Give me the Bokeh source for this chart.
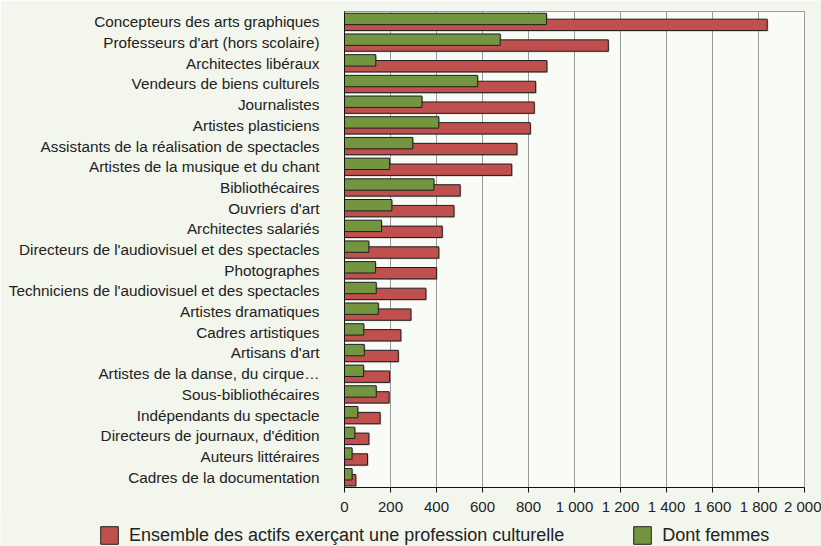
from bokeh.plotting import figure
from bokeh.layouts import column
from bokeh.models import (Range1d, FactorRange, FixedTicker, Legend, LegendItem,
                          ColumnDataSource)
from bokeh.transform import dodge
from bokeh.embed import file_html
from bokeh.resources import INLINE

categories = [
    "Concepteurs des arts graphiques",
    "Professeurs d'art (hors scolaire)",
    "Architectes libéraux",
    "Vendeurs de biens culturels",
    "Journalistes",
    "Artistes plasticiens",
    "Assistants de la réalisation de spectacles",
    "Artistes de la musique et du chant",
    "Bibliothécaires",
    "Ouvriers d'art",
    "Architectes salariés",
    "Directeurs de l'audiovisuel et des spectacles",
    "Photographes",
    "Techniciens de l'audiovisuel et des spectacles",
    "Artistes dramatiques",
    "Cadres artistiques",
    "Artisans d'art",
    "Artistes de la danse, du cirque…",
    "Sous-bibliothécaires",
    "Indépendants du spectacle",
    "Directeurs de journaux, d'édition",
    "Auteurs littéraires",
    "Cadres de la documentation",
]
ensemble = [1838, 1147, 880, 831, 825, 808, 750, 727, 503, 476, 425, 410,
            400, 354, 289, 245, 234, 196, 194, 155, 106, 100, 49]
femmes = [878, 677, 136, 579, 337, 410, 297, 196, 389, 206, 161, 106,
          135, 138, 147, 84, 86, 83, 138, 58, 45, 33, 33]
x_ticks = [0, 200, 400, 600, 800, 1000, 1200, 1400, 1600, 1800, 2000]
x_tick_labels = ["0", "200", "400", "600", "800", "1 000", "1 200", "1 400",
                 "1 600", "1 800", "2 000"]
legend_labels = ["Ensemble des actifs exerçant une profession culturelle",
                 "Dont femmes"]

RED = "#c0504d"
GREEN = "#73953f"
EDGE = "#1e1e1e"
FONT = "Liberation Sans"
BORDER_BG = "#f2f6ec"

src = ColumnDataSource(dict(cat=categories, ens=ensemble, fem=femmes))

p = figure(width=821, height=517, output_backend="svg", toolbar_location=None,
           x_range=Range1d(0, 2000),
           y_range=FactorRange(factors=list(reversed(categories)), range_padding=0),
           min_border_left=344, min_border_right=17, min_border_top=11,
           min_border_bottom=28)
p.frame_align = False
p.border_fill_color = BORDER_BG
p.background_fill_color = "#f9fbf6"
p.outline_line_color = "#9a9a9a"

# shadows
p.hbar(y=dodge("cat", -0.195, range=p.y_range), left=0,
       right=dodge("ens", 5, range=p.x_range), height=0.55, source=src,
       fill_color="#555555", fill_alpha=0.35, line_color=None)
p.hbar(y=dodge("cat", 0.09, range=p.y_range), left=0,
       right=dodge("fem", 5, range=p.x_range), height=0.55, source=src,
       fill_color="#555555", fill_alpha=0.35, line_color=None)

p.hbar(y=dodge("cat", -0.145, range=p.y_range), left=0, right="ens",
       height=0.55, source=src, fill_color=RED, line_color=EDGE, line_width=1)
p.hbar(y=dodge("cat", 0.14, range=p.y_range), left=0, right="fem",
       height=0.55, source=src, fill_color=GREEN, line_color=EDGE, line_width=1)

# x axis
p.xaxis.ticker = FixedTicker(ticks=x_ticks)
p.xaxis.major_label_overrides = {t: l for t, l in zip(x_ticks, x_tick_labels)}
p.xaxis.axis_line_color = "#111111"
p.xaxis.major_tick_line_color = "#111111"
p.xaxis.major_tick_out = 5
p.xaxis.major_tick_in = 0
p.xaxis.minor_tick_line_color = None
p.xaxis.major_label_standoff = 5
p.xaxis.major_label_text_font = FONT
p.xaxis.major_label_text_font_size = "15px"
p.xaxis.major_label_text_color = "#222222"

# y axis
p.yaxis.axis_line_color = "#111111"
p.yaxis.major_tick_line_color = None
p.yaxis.major_label_standoff = 19
p.yaxis.major_label_text_font = FONT
p.yaxis.major_label_text_font_size = "15.3px"
p.yaxis.major_label_text_color = "#222222"

p.xgrid.grid_line_color = "#9a9a9a"
p.ygrid.grid_line_color = None

# legend strip (proxy renderers are hidden; only their legend swatches show)
lg = figure(width=821, height=29, output_backend="svg", toolbar_location=None,
            x_range=Range1d(0, 1), y_range=Range1d(0, 1),
            min_border=0, x_axis_type=None, y_axis_type=None)
lg.frame_align = False
lg.border_fill_color = BORDER_BG
lg.background_fill_color = BORDER_BG
lg.outline_line_color = None
lg.grid.grid_line_color = None
d_red = lg.hbar(y="ens", right="ens", left=0, height=1, source=src,
                fill_color=RED, line_color=EDGE, visible=False)
d_green = lg.hbar(y="fem", right="fem", left=0, height=1, source=src,
                  fill_color=GREEN, line_color=EDGE, visible=False)
legend = Legend(items=[LegendItem(label=legend_labels[0], renderers=[d_red]),
                       LegendItem(label=legend_labels[1], renderers=[d_green])],
                orientation="horizontal", location=(98, 0),
                label_text_font=FONT, label_text_font_size="18px",
                label_text_color="#222222", label_height=22,
                glyph_width=22, glyph_height=22, label_standoff=9,
                spacing=67, padding=0, margin=0,
                inactive_fill_alpha=0,
                border_line_color=None, background_fill_alpha=0)
lg.add_layout(legend, "center")

layout = column(p, lg, spacing=0)
open("out.html", "w").write(file_html(layout, INLINE))
